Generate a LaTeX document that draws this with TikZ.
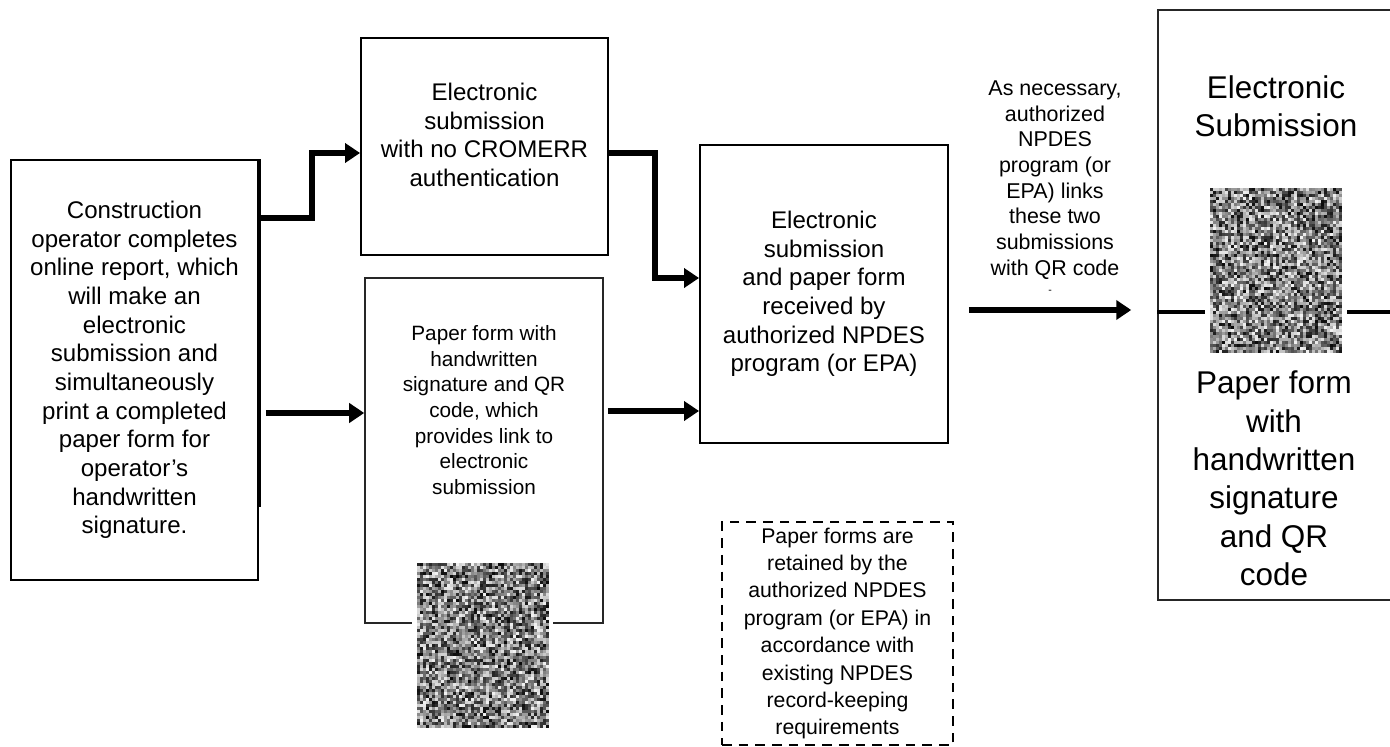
\documentclass[tikz,border=0pt]{standalone}
\usepackage{fontspec}
\setmainfont{Liberation Sans}
\usetikzlibrary{arrows.meta,positioning,calc}

\begin{document}
\begin{tikzpicture}[x=0.02cm,y=-0.02cm,
		box/.style={draw,line width=1.1pt,inner sep=0pt},
		thinbox/.style={draw=black!85,line width=0.9pt,inner sep=0pt},
		note/.style={draw,line width=1.3pt,dash pattern=on 5.5pt off 4pt,inner sep=0pt},
		flow/.style={line width=3.2pt,-{Triangle[length=0.3cm,width=0.38cm]}},
		mid/.style={align=center,font=\fontsize{13.7}{16.3}\selectfont},
		small/.style={align=center,font=\fontsize{11.8}{14.6}\selectfont},
		notetxt/.style={align=center,font=\fontsize{12.1}{15.6}\selectfont},
		large/.style={align=center,font=\fontsize{17.9}{21.8}\selectfont}
	]
		\useasboundingbox (0,0) rectangle (1390,747);
		
		% boxes
		\node [box, mid, minimum width=4.94cm, minimum height=8.4cm] (oper) at (134.5,370) {Construction\\operator completes\\online report, which\\will make an\\electronic\\submission and\\simultaneously\\print a completed\\paper form for\\operator’s\\handwritten\\signature.};
		\node [box, minimum width=4.94cm, minimum height=4.34cm] (nocrom) at (484.5,146.5) {};
		\node [mid] (nocrom-t) at (484.5,135) {Electronic\\submission\\with no CROMERR\\authentication};
		\node [thinbox, minimum width=4.76cm, minimum height=6.9cm] (paper) at (484,450.5) {};
		\node [small] (paper-t) at (484,410) {Paper form with\\handwritten\\signature and QR\\code, which\\provides link to\\electronic\\submission};
		\node [box, mid, minimum width=4.96cm, minimum height=5.96cm] (recv) at (824,294) {Electronic\\submission\\and paper form\\received by\\authorized NPDES\\program (or EPA)};
		\node [note, minimum width=4.62cm, minimum height=4.46cm, notetxt] (keep) at (837.5,633.5) {Paper forms are\\retained by the\\authorized NPDES\\program (or EPA) in\\accordance with\\existing NPDES\\record-keeping\\requirements};
		\node [thinbox, minimum width=4.68cm, minimum height=11.8cm] (rbox) at (1275,305) {};
		\node [large] (rbox-top) at (1276,106) {Electronic\\Submission};
		\node [large] (rbox-bot) at (1274,478.5) {Paper form\\with\\handwritten\\signature\\and QR\\code};
		\node [align=center,font=\fontsize{12.2}{14.6}\selectfont] (link) at (1055,180) {As necessary,\\authorized\\NPDES\\program (or\\EPA) links\\these two\\submissions\\with QR code};
		\node [font=\fontsize{6}{6}\selectfont] (link-dot) at (1050,292) {-};
		
		\draw [line width=2.2pt] (oper.north east) -- (oper.east |- 0,507);
		\draw [line width=2.6pt] (rbox.west |- 0,312) -- (rbox.east |- 0,312);
		
		% arrows
		\draw [flow] (oper.east |- 0,218) -- (312,218) -- (312,153) -- (nocrom.west |- 0,153);
		\draw [flow] (nocrom.east |- 0,153) -- (655,153) -- (655,278) -- (recv.west |- 0,278);
		\draw [flow, shorten <=0.14cm] (oper.east |- 0,413) -- (paper.west |- 0,413);
		\draw [flow, shorten <=0.08cm] (paper.east |- 0,411) -- (recv.west |- 0,411);
		\draw [flow, shorten <=0.4cm, shorten >=0.52cm] (recv.east |- 0,310) -- (rbox.west |- 0,310);
		
		% QR codes
		\pgfmathsetseed{7}
		\fill [white] (412,559) rectangle (553,731);
		\foreach \i in {0,...,43}{
			\foreach \j in {0,...,54}{
				\pgfmathsetmacro\g{int(5+92*rnd)}
				\fill [black!\g] (417+3*\i,563+3*\j) rectangle ++(3.15,3.15);
			}
		}
		\fill [white] (1205,184) rectangle (1347,356);
		\foreach \i in {0,...,43}{
			\foreach \j in {0,...,54}{
				\pgfmathsetmacro\g{int(5+92*rnd)}
				\fill [black!\g] (1210+3*\i,188+3*\j) rectangle ++(3.15,3.15);
			}
		}
\end{tikzpicture}
\end{document}
